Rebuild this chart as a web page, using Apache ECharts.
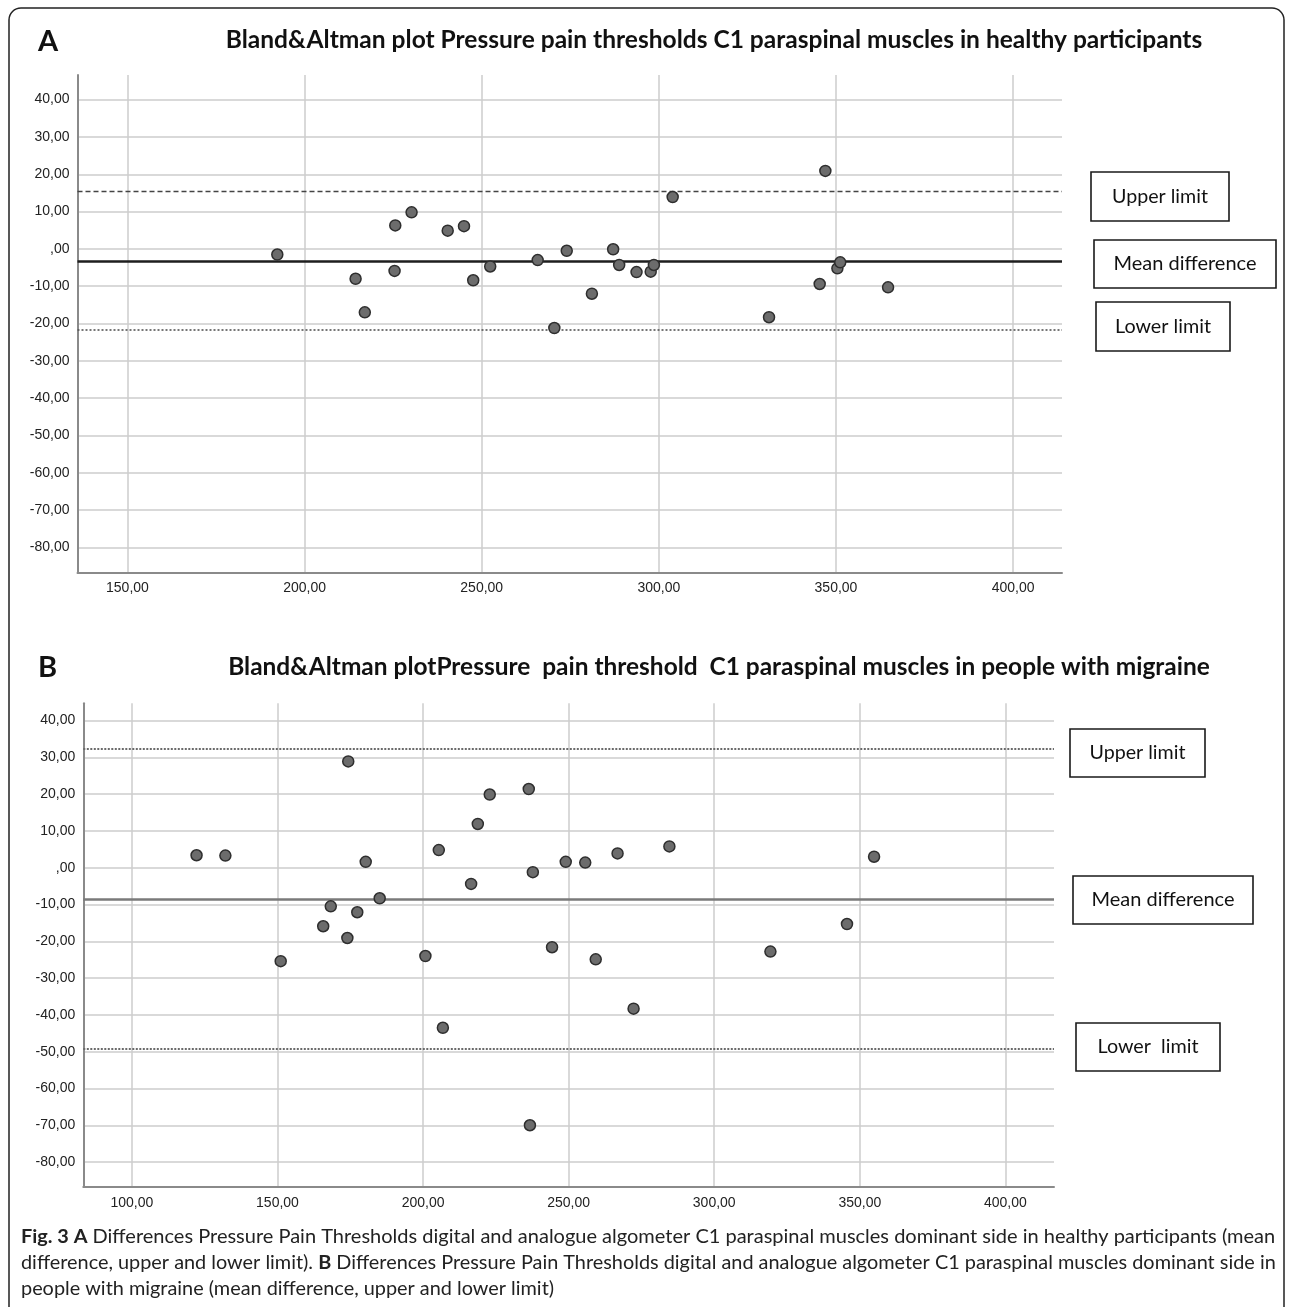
<!DOCTYPE html>
<html>
<head>
<meta charset="utf-8">
<script src="https://cdn.jsdelivr.net/npm/echarts@6/dist/echarts.min.js"></script>
<style>
  html, body { margin: 0; padding: 0; background: #fff; }
  #chart { width: 1292px; height: 1307px; }
</style>
</head>
<body>
<div id="chart"></div>
<script>
// panel A - healthy participants (mean of the two devices / difference)
var xA = [192.3, 214.4, 217.0, 225.6, 225.4, 230.2, 240.4, 245.0, 247.6, 252.4, 265.8, 270.5, 274.0,
          281.1, 287.1, 288.8, 293.7, 297.7, 298.6, 303.9, 331.1, 345.4, 347.0, 350.4, 351.2, 364.7];
var yA = [-1.5, -8.0, -17.0, 6.3, -5.9, 9.8, 4.9, 6.1, -8.4, -4.7, -3.0, -21.2, -0.5,
          -12.0, -0.1, -4.3, -6.2, -6.1, -4.3, 13.9, -18.3, -9.4, 20.9, -5.2, -3.6, -10.3];
// upper limit, mean difference, lower limit
var limitsA = [15.4, -3.2, -21.6];

// panel B - people with migraine
var xB = [122.2, 132.1, 151.1, 165.7, 168.3, 174.0, 174.3, 177.4, 180.3, 185.1, 200.8, 205.4, 206.8, 216.5, 218.8,
          222.9, 236.3, 236.7, 237.7, 244.3, 249.0, 255.7, 259.3, 266.8, 272.3, 284.6, 319.3, 345.6, 354.9];
var yB = [3.4, 3.3, -25.4, -15.9, -10.5, -19.1, 28.9, -12.1, 1.6, -8.3, -24.0, 4.8, -43.5, -4.4, 11.9,
          19.9, 21.4, -70.0, -1.2, -21.6, 1.6, 1.4, -24.9, 3.9, -38.3, 5.8, -22.8, -15.3, 3.0];
var limitsB = [32.4, -8.5, -49.3];

// tick labels
var xTicksA = [150, 200, 250, 300, 350, 400];
var xTicksB = [100, 150, 200, 250, 300, 350, 400];
var yTicks = [40, 30, 20, 10, 0, -10, -20, -30, -40, -50, -60, -70, -80];

var legendNames = ["Upper limit", "Mean difference", "Lower limit"];
var legendNamesB = ["Upper limit", "Mean difference", "Lower  limit"];

var titleA = "Bland&Altman plot Pressure pain thresholds C1 paraspinal muscles in healthy participants";
var titleB = "Bland&Altman plotPressure  pain threshold  C1 paraspinal muscles in people with migraine";

var SANS = "Lato, 'Open Sans', sans-serif";
var ARIAL = "'Liberation Sans', Arial, sans-serif";

// font size so that a text gets a given width
var ctx = document.createElement("canvas").getContext("2d");
function textW(txt, weight, size) {
    ctx.font = weight + " " + size + "px " + SANS;
    return ctx.measureText(txt).width;
}
function fitSize(txt, weight, target) {
    return 100 * target / textW(txt, weight, 100);
}

function fmt(v) {
    if (v === 0) return ",00";
    return v.toFixed(2).replace(".", ",");
}

function xAxisCfg(idx, min, max, ticks) {
    return {
        gridIndex: idx, type: "value", min: min, max: max,
        axisLine: { show: true, onZero: false, lineStyle: { color: "#8a8a8a", width: 2 } },
        axisTick: { show: false, customValues: ticks },
        axisLabel: { customValues: ticks, formatter: fmt, color: "#222", fontSize: 14, fontFamily: ARIAL, margin: 9 },
        splitLine: { show: true, lineStyle: { color: "#cdcdcd", width: 1.5 } }
    };
}
function yAxisCfg(idx, min, max) {
    return {
        gridIndex: idx, type: "value", min: min, max: max,
        axisLine: { show: true, onZero: false, lineStyle: { color: "#8a8a8a", width: 2 } },
        axisTick: { show: false, customValues: yTicks },
        axisLabel: { customValues: yTicks, formatter: fmt, color: "#222", fontSize: 14, fontFamily: ARIAL, margin: 8 },
        splitLine: { show: true, lineStyle: { color: "#cdcdcd", width: 1.5 } }
    };
}

function limitLines(lims, styles) {
    return {
        silent: true, symbol: "none", z: 1,
        label: { show: false },
        data: lims.map(function (v, i) { return { yAxis: v, lineStyle: styles[i] }; })
    };
}

var stylesA = [
    { color: "#444", width: 1.4, type: [5, 3] },
    { color: "#1e1e1e", width: 2.6, type: "solid" },
    { color: "#555", width: 1.6, type: [2, 2] }
];
var stylesB = [
    { color: "#6a6a6a", width: 2, type: [2, 1.5] },
    { color: "#7a7a7a", width: 2.6, type: "solid" },
    { color: "#6a6a6a", width: 2, type: [2, 1.5] }
];

var dotStyle = { color: "#6c6c6c", borderColor: "#2e2e2e", borderWidth: 1.5, opacity: 1 };

// legend-like boxes at the right
function box(cx, top, w, h, txt, targetW) {
    var fs = fitSize(txt, "normal", targetW);
    return [
        { type: "rect", shape: { x: cx - w / 2, y: top, width: w, height: h },
          style: { fill: "#fff", stroke: "#1a1a1a", lineWidth: 1.6 }, z: 10 },
        { type: "text", x: cx, y: top + h / 2, z: 11,
          style: { text: txt, fontFamily: SANS, fontSize: fs, fill: "#111", align: "center", verticalAlign: "middle" } }
    ];
}

// caption
var capW = 1255;
var cap1a = "Fig. 3 A", cap1b = " Differences Pressure Pain Thresholds digital and analogue algometer C1 paraspinal muscles dominant side in healthy participants (mean";
var cap2a = "difference, upper and lower limit). ", cap2b = "B", cap2c = " Differences Pressure Pain Thresholds digital and analogue algometer C1 paraspinal muscles dominant side in";
var cap3 = "people with migraine (mean difference, upper and lower limit)";
var capFs1 = 100 * capW / (textW(cap1a, "bold", 100) + textW(cap1b, "normal", 100));
var capFs2 = 100 * capW / (textW(cap2a, "normal", 100) + textW(cap2b, "bold", 100) + textW(cap2c, "normal", 100));
var capFs = Math.min(capFs1, capFs2);
var capRich = { b: { fontWeight: "bold", fontSize: capFs, fontFamily: SANS, fill: "#222" } };
function capLine(y, text, fs) {
    return { type: "text", x: 21, y: y, z: 11,
        style: { text: text, fontFamily: SANS, fontSize: fs, fill: "#222", verticalAlign: "middle", rich: capRich } };
}

var graphics = [
    { type: "rect", shape: { x: 9, y: 8, width: 1275, height: 1320, r: 12 },
      style: { fill: "none", stroke: "#222", lineWidth: 1.5 }, z: 0 },
    { type: "text", x: 38, y: 42, style: { text: "A", fontFamily: SANS, fontWeight: "bold", fontSize: 29, fill: "#111", verticalAlign: "middle" } },
    { type: "text", x: 38, y: 668, style: { text: "B", fontFamily: SANS, fontWeight: "bold", fontSize: 29, fill: "#111", verticalAlign: "middle" } },
    { type: "text", x: 714, y: 40, style: { text: titleA, fontFamily: SANS, fontWeight: "bold", fontSize: fitSize(titleA, "bold", 977), fill: "#111", align: "center", verticalAlign: "middle" } },
    { type: "text", x: 719, y: 667, style: { text: titleB, fontFamily: SANS, fontWeight: "bold", fontSize: fitSize(titleB, "bold", 982), fill: "#111", align: "center", verticalAlign: "middle" } },
    capLine(1237, "{b|" + cap1a + "}" + cap1b, capFs1),
    capLine(1263, cap2a + "{b|" + cap2b + "}" + cap2c, capFs2),
    capLine(1289, cap3, capFs)
]
.concat(box(1160, 172, 138, 49, legendNames[0], 96))
.concat(box(1185, 240, 182, 48, legendNames[1], 143))
.concat(box(1163, 302, 134, 49, legendNames[2], 96))
.concat(box(1137.5, 729, 135, 48, legendNamesB[0], 96))
.concat(box(1163, 876, 180, 48, legendNamesB[1], 143))
.concat(box(1148, 1023, 144, 48, legendNamesB[2], 101));

var chart = echarts.init(document.getElementById("chart"));
var option = {
    backgroundColor: "#fff",
    animation: false,
    grid: [
        { left: 77.5, top: 75, width: 984.5, height: 497.5 },
        { left: 83.3, top: 703.3, width: 970.7, height: 483.4 }
    ],
    xAxis: [
        xAxisCfg(0, 135.9, 413.8, xTicksA),
        xAxisCfg(1, 83.3, 416.7, xTicksB)
    ],
    yAxis: [
        yAxisCfg(0, -86.7, 46.6),
        yAxisCfg(1, -86.7, 44.7)
    ],
    series: [
        {
            name: "A", type: "scatter", xAxisIndex: 0, yAxisIndex: 0,
            symbolSize: 11, itemStyle: dotStyle, z: 3,
            data: xA.map(function (x, i) { return [x, yA[i]]; }),
            markLine: limitLines(limitsA, stylesA)
        },
        {
            name: "B", type: "scatter", xAxisIndex: 1, yAxisIndex: 1,
            symbolSize: 11, itemStyle: dotStyle, z: 3,
            data: xB.map(function (x, i) { return [x, yB[i]]; }),
            markLine: limitLines(limitsB, stylesB)
        }
    ],
    graphic: { elements: graphics }
};
chart.setOption(option);
</script>
</body>
</html>
